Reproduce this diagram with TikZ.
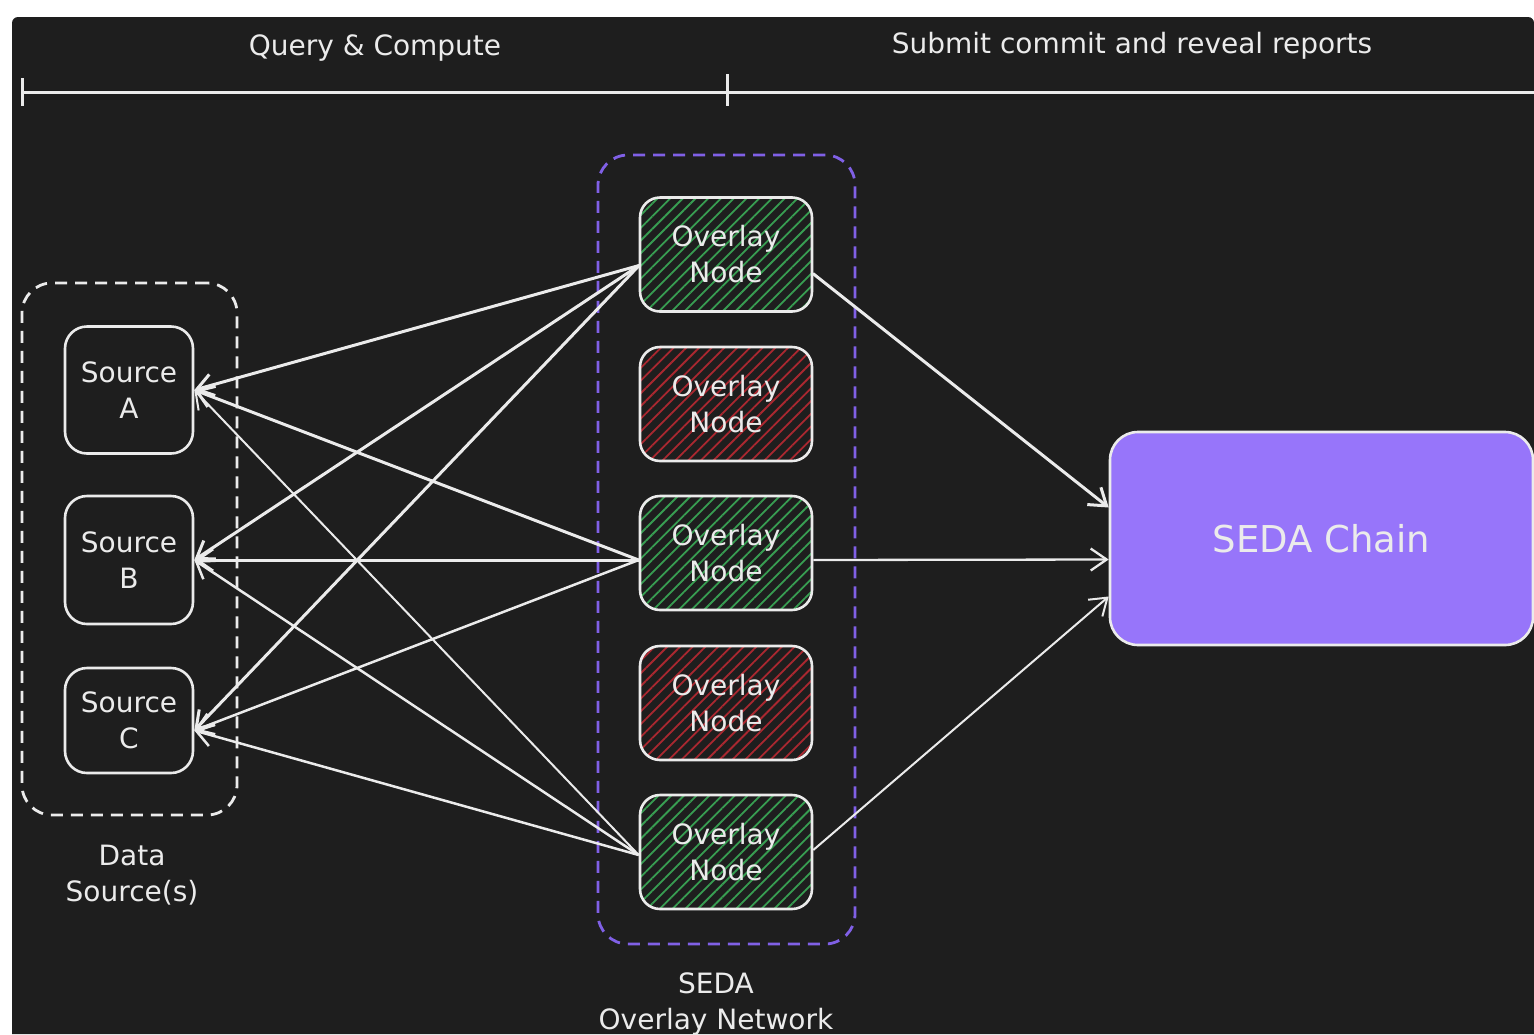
\documentclass[tikz,border=0pt]{standalone}
\usepackage{fontspec}
\setmainfont{DejaVu Sans}
\usetikzlibrary{arrows.meta,patterns.meta,calc}
\definecolor{bgdark}{RGB}{30,30,30}
\definecolor{ink}{RGB}{235,235,235}
\definecolor{hatchgreen}{RGB}{56,158,82}
\definecolor{hatchred}{RGB}{170,40,48}
\definecolor{violetline}{RGB}{128,96,230}
\definecolor{sedafill}{RGB}{151,117,250}
\begin{document}
\begin{tikzpicture}[x=1pt,y=-1pt,
  txt/.style={text=ink,font=\fontsize{28}{36}\selectfont,align=center},
  srcbox/.style={draw=ink,line width=2.6pt,rounded corners=22pt,fill=bgdark,minimum width=128pt,inner sep=0pt,txt},
  ovbox/.style={draw=ink,line width=2.6pt,rounded corners=20pt,minimum width=172pt,minimum height=114pt,inner sep=0pt,txt},
  goodnode/.style={ovbox,pattern={Lines[angle=45,distance=9pt,line width=1.8pt]},pattern color=hatchgreen},
  badnode/.style={ovbox,pattern={Lines[angle=45,distance=9pt,line width=1.8pt]},pattern color=hatchred},
  groupbox/.style={line width=2.8pt,dash pattern=on 12pt off 8pt,rounded corners=30pt,inner sep=0pt},
  conn/.style={draw=ink,line width=3pt,-{Straight Barb[length=16pt,width=22pt]}},
  thinconn/.style={conn,line width=2pt},
  tl/.style={draw=ink,line width=3pt}
]
\useasboundingbox (0,0) rectangle (1534,1034);
\fill[white] (0,0) rectangle (1534,1034);
\fill[bgdark] (12,1034) [rounded corners=6pt] |- (1534,17) [sharp corners] -- (1534,1034) -- cycle;

% timeline
\coordinate (tlstart) at (22,92);
\coordinate (tlmid) at (727,92);
\coordinate (tlend) at (1534,92);
\draw[tl] (tlstart) -- (tlend);
\draw[tl] ([yshift=14pt]tlstart) -- ([yshift=-14pt]tlstart);
\draw[tl] ([yshift=18pt]tlmid) -- ([yshift=-14pt]tlmid);
\node[txt,anchor=base] (lblq) at (375,55) {Query \& Compute};
\node[txt,anchor=base] (lbls) at (1132,53) {Submit commit and reveal reports};

% groups
\node[groupbox,draw=ink,minimum width=215pt,minimum height=532pt] (dsgroup) at (129.5,549) {};
\node[groupbox,draw=violetline,minimum width=257pt,minimum height=789pt] (ovgroup) at (726.5,549.5) {};
\node[txt] (dslabel) at (132,875) {Data\\Source(s)};
\node[txt] (ovlabel) at (716,1004) {SEDA\\Overlay Network};

% sources
\node[srcbox,minimum height=127pt] (srcA) at (129,390) {Source\\A};
\node[srcbox,minimum height=128pt] (srcB) at (129,560) {Source\\B};
\node[srcbox,minimum height=105pt] (srcC) at (129,720.5) {Source\\C};

% overlay nodes
\node[goodnode] (ov1) at (726,254.5) {Overlay\\Node};
\node[badnode]  (ov2) at (726,404) {Overlay\\Node};
\node[goodnode] (ov3) at (726,553) {Overlay\\Node};
\node[badnode]  (ov4) at (726,703) {Overlay\\Node};
\node[goodnode] (ov5) at (726,852) {Overlay\\Node};

% SEDA chain
\node[draw=ink,line width=2.6pt,fill=sedafill,rounded corners=28pt,minimum width=423pt,minimum height=213pt,inner sep=0pt,text=ink,font=\fontsize{37}{44}\selectfont] (seda) at (1321.5,538.5) {SEDA Chain};

% connectors to sources
\draw[conn] ([yshift=-11pt]ov1.west) -- (srcA.east);
\draw[conn] ([yshift=-11pt]ov1.west) -- (srcB.east);
\draw[conn] ([yshift=-11pt]ov1.west) -- ([yshift=-10pt]srcC.east);
\draw[conn] ([yshift=-7pt]ov3.west) -- (srcA.east);
\draw[conn] ([yshift=-7pt]ov3.west) -- (srcB.east);
\draw[conn,line width=2.5pt] ([yshift=-7pt]ov3.west) -- ([yshift=-10pt]srcC.east);
\draw[thinconn] ([yshift=-3pt]ov5.west) -- (srcA.east);
\draw[conn,line width=2.5pt] ([yshift=-3pt]ov5.west) -- (srcB.east);
\draw[conn,line width=2.5pt] ([yshift=-3pt]ov5.west) -- ([yshift=-10pt]srcC.east);

% connectors to SEDA chain
\draw[conn] ([yshift=-19pt]ov1.east) -- ([yshift=31pt]seda.west);
\draw[conn,line width=2.3pt] ([yshift=-7pt]ov3.east) -- ([yshift=-21pt]seda.west);
\draw[thinconn] ([yshift=2pt]ov5.east) -- ([yshift=-58pt]seda.west);
\end{tikzpicture}
\end{document}
